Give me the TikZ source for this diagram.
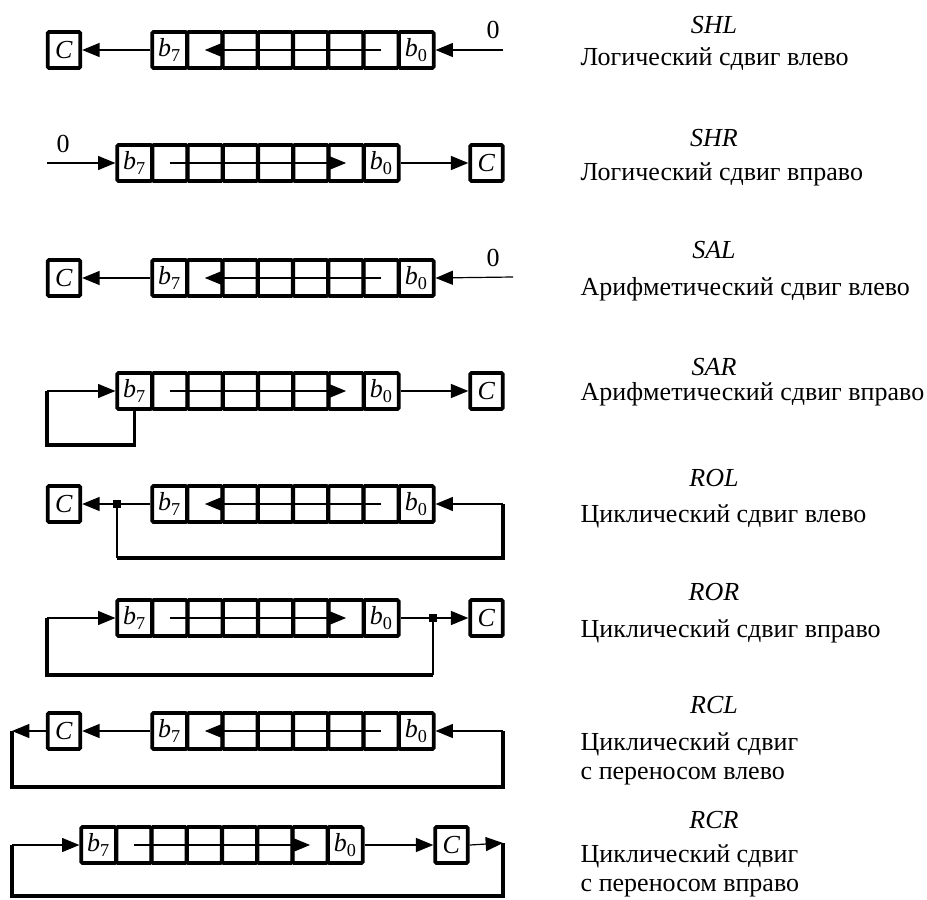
\documentclass[tikz,border=0pt]{standalone}
\usepackage{fontspec}
\setmainfont{Liberation Serif}
\usetikzlibrary{arrows.meta}
\newcommand{\bigtxt}{\fontsize{19.5pt}{22pt}\selectfont}
\newcommand{\bitlbl}[1]{\textit{b}\textsubscript{#1}}

\begin{document}
\begin{tikzpicture}[
  x=0.75pt, y=-0.75pt,
  cell/.style={draw, line width=2.8pt, rounded corners=1pt, minimum width=26pt, minimum height=27pt, inner sep=0pt, font=\bigtxt},
  cbox/.style={cell, minimum width=24.5pt},
  arr/.style={-{Triangle[length=13pt,width=10.5pt]}, line width=0.9pt},
  fb/.style={line width=2.8pt},
  dot/.style={fill, minimum size=6pt, inner sep=0pt},
  opname/.style={font=\bigtxt\itshape},
  opdesc/.style={anchor=west, align=left, font=\bigtxt},
]
\useasboundingbox (0,0) rectangle (927,899);

% registers: cell 0 = b7 (left), cell 7 = b0 (right)
\foreach \rw/\lx/\ry in {shl/152/50, shr/117/163, sal/152/278, sar/117/391,
                         rol/152/504, ror/117/618, rcl/152/731, rcr/81/845} {
  \foreach \i in {0,...,7} {
    \ifnum\i=0 \def\txt{\bitlbl{7}}\else\ifnum\i=7 \def\txt{\bitlbl{0}}\else\def\txt{}\fi\fi
    \node[cell] (\rw\i) at ({\lx+17.6+35.25*\i}, \ry) {\txt};
  }
}

% carry flags
\node[cbox] (shlC) at (64,50) {\textit{C}};
\node[cbox] (shrC) at (486.5,163) {\textit{C}};
\node[cbox] (salC) at (64,278) {\textit{C}};
\node[cbox] (sarC) at (486.5,391) {\textit{C}};
\node[cbox] (rolC) at (64,504) {\textit{C}};
\node[cbox] (rorC) at (486.5,618) {\textit{C}};
\node[cbox] (rclC) at (64,731) {\textit{C}};
\node[cbox] (rcrC) at (451.5,845) {\textit{C}};

% shift direction inside the registers
\foreach \rw in {shl,sal,rol,rcl}
  \draw[arr] (\rw6.center) -- (\rw1.center);
\foreach \rw in {shr,sar,ror,rcr}
  \draw[arr] (\rw1.center) -- (\rw6.center);

% SHL
\coordinate (shlin) at (503,50);
\node (shlzero) at (493,30) {\bigtxt 0};
\draw[arr] (shlin) -- (shl7.east);
\draw[arr] (shl0.west) -- (shlC.east);

% SHR
\coordinate (shrin) at (47,163);
\node (shrzero) at (63,144) {\bigtxt 0};
\draw[arr] (shrin) -- (shr0.west);
\draw[arr] (shr7.east) -- (shrC.west);

% SAL
\coordinate (salin) at (513,277);
\node (salzero) at (493,258) {\bigtxt 0};
\draw[arr] (salin) -- (sal7.east);
\draw[arr] (sal0.west) -- (salC.east);

% SAR
\coordinate (sarlb) at (47,445);
\coordinate (sarlt) at (47,391);
\draw[fb] (sar0.south) |- (sarlb) -- (sarlt);
\draw[arr] (sarlt) -- (sar0.west);
\draw[arr] (sar7.east) -- (sarC.west);

% ROL
\node[dot] (roldot) at (117,504) {};
\coordinate (rollb) at (117,558);
\coordinate (rolrb) at (503,558);
\coordinate (rolrt) at (503,504);
\draw[arr] (rol0.west) -- (rolC.east);
\draw[line width=0.9pt] (roldot) -- (rollb);
\draw[fb] (rollb) -- (rolrb) -- (rolrt);
\draw[arr] (rolrt) -- (rol7.east);

% ROR
\node[dot] (rordot) at (433,618) {};
\coordinate (rorrb) at (433,675);
\coordinate (rorlb) at (47,675);
\coordinate (rorlt) at (47,618);
\draw[arr] (ror7.east) -- (rorC.west);
\draw[line width=0.9pt] (rordot) -- (rorrb);
\draw[fb] (rorrb) -- (rorlb) -- (rorlt);
\draw[arr] (rorlt) -- (ror0.west);

% RCL
\coordinate (rcllt) at (12,731);
\coordinate (rcllb) at (12,787);
\coordinate (rclrb) at (503,787);
\coordinate (rclrt) at (503,731);
\draw[arr] (rcl0.west) -- (rclC.east);
\draw[arr] (rclC.west) -- (rcllt);
\draw[fb] (rcllt) -- (rcllb) -- (rclrb) -- (rclrt);
\draw[arr] (rclrt) -- (rcl7.east);

% RCR
\coordinate (rcrrt) at (503,843);
\coordinate (rcrrb) at (503,896);
\coordinate (rcrlb) at (12,896);
\coordinate (rcrlt) at (12,845);
\draw[arr] (rcr7.east) -- (rcrC.west);
\draw[arr] (rcrC.east) -- (rcrrt);
\draw[fb] (rcrrt) -- (rcrrb) -- (rcrlb) -- (rcrlt);
\draw[arr] (rcrlt) -- (rcr0.west);

% captions
\node[opname] (shlname) at (714,25) {SHL};
\node[opdesc] (shldesc) at (576,59) {Логический сдвиг влево};
\node[opname] (shrname) at (714,138) {SHR};
\node[opdesc] (shrdesc) at (576,174) {Логический сдвиг вправо};
\node[opname] (salname) at (714,250) {SAL};
\node[opdesc] (saldesc) at (576,289) {Арифметический сдвиг влево};
\node[opname] (sarname) at (714,367) {SAR};
\node[opdesc] (sardesc) at (576,394) {Арифметический сдвиг вправо};
\node[opname] (rolname) at (714,478) {ROL};
\node[opdesc] (roldesc) at (576,516) {Циклический сдвиг влево};
\node[opname] (rorname) at (714,592) {ROR};
\node[opdesc] (rordesc) at (576,631) {Циклический сдвиг вправо};
\node[opname] (rclname) at (714,705) {RCL};
\node[opdesc] (rcldesc) at (576,759) {Циклический сдвиг\\с переносом влево};
\node[opname] (rcrname) at (714,820) {RCR};
\node[opdesc] (rcrdesc) at (576,871) {Циклический сдвиг\\с переносом вправо};
\end{tikzpicture}
\end{document}
